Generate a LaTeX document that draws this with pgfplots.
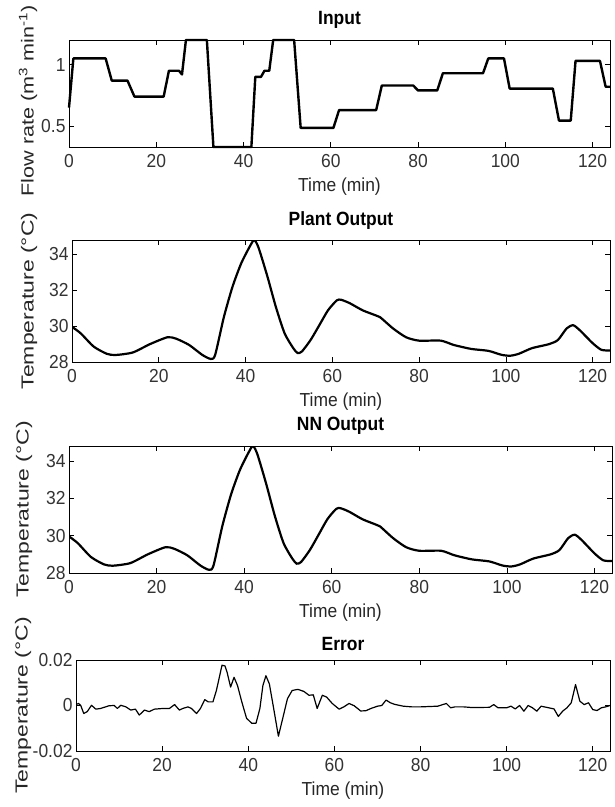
\documentclass[border=0pt]{standalone}
\usepackage{fontspec}
\setmainfont{Liberation Sans}
\usepackage{pgfplots}
\pgfplotsset{compat=1.18}

\pgfplotsset{
  ylab/.style={ylabel style={xshift=#1, rotate=90, xscale=1.32}},
  ttl/.style={title style={yshift=#1, yscale=1.1}},
  panel/.style={
    scale only axis,
    xmin=0, xmax=124,
    xtick={0,20,40,60,80,100,120},
    xticklabels={0,20,40,60,80,100,120},
    hide obscured x ticks=false,
    hide obscured y ticks=false,
    tick align=inside,
    major tick length=5bp,
    axis line style={line width=0.8bp, black},
    tick style={line width=0.7bp, black},
    /pgf/number format/assume math mode=true,
    scaled ticks=false,
    tick label style={font=\fontsize{17.5}{17.5}\selectfont, yscale=1.08, text=black!80},
    xticklabel style={yshift=-3bp},
    every axis title/.style={at={(0.5,1)}, anchor=center},
    every axis x label/.style={at={(0.5,0)}, anchor=center},
    every axis y label/.style={at={(0,0.5)}, anchor=center},
    title style={font=\bfseries\fontsize{17.5}{17.5}\selectfont},
    xlabel style={font=\fontsize{17.5}{17.5}\selectfont, yshift=-40bp, yscale=1.08, text=black!85},
    ylabel style={font=\fontsize{17.5}{17.5}\selectfont, text=black!85},
    xlabel={Time (min)},
    anchor=north west,
  }
}

\begin{document}
\begin{tikzpicture}
\path[use as bounding box] (0,0) rectangle (615bp,-807bp);

% ---------------- Input ----------------
\begin{axis}[panel,
  at={(69bp,-40bp)}, width=541bp, height=107bp,
  ymin=0.33, ymax=1.2, ytick={0.5,1}, yticklabels={0.5,1},
  title={Input}, ttl=20bp,
  ylabel={Flow rate (m\textsuperscript{3} min\textsuperscript{-1})},
  ylabel style={at={(0,0.43)}, xshift=-41bp, rotate=90, xscale=1.24},
  clip=false]
\addplot[black, line width=2.4bp, line join=round] coordinates {
(0,0.65) (1,1.05) (8.4,1.05) (9.8,0.87) (13.4,0.87) (15,0.74) (21.7,0.74)
(22.9,0.95) (25.2,0.95) (25.9,0.92) (26.8,1.2) (31.6,1.2) (33.1,0.33)
(41.8,0.33) (42.7,0.90) (44.0,0.90) (44.8,0.95) (45.9,0.95) (46.8,1.2)
(51.6,1.2) (53.1,0.485) (60.6,0.485) (61.9,0.63) (70.4,0.63) (71.7,0.83)
(78.9,0.83) (80.0,0.79) (84.4,0.79) (85.7,0.93) (94.9,0.93) (96.1,1.05)
(99.7,1.05) (101,0.805) (110.9,0.805) (112.3,0.545) (115,0.545) (116.1,1.03)
(121.7,1.03) (123,0.82) (124,0.82)
};
\end{axis}

% ---------------- Plant Output ----------------
\begin{axis}[panel,
  at={(72bp,-240bp)}, width=538bp, height=122bp,
  ymin=28, ymax=34.8, ytick={28,30,32,34},
  title={Plant Output}, ttl=19bp,
  ylabel={Temperature (°C)},
  ylab=-43bp]
\addplot[black, line width=2.2bp, smooth, tension=0.4] coordinates {
(0,29.96) (2,29.6) (5,28.86) (8,28.46) (10,28.39) (14,28.53) (18,29.0)
(22,29.38) (24,29.3) (27,28.95) (30,28.4) (32,28.17) (33,28.4) (35,30.5)
(37,32.2) (39,33.5) (41,34.45) (42,34.8) (43,34.37) (45,32.8) (47,31.06)
(49,29.6) (51,28.77) (52,28.5) (53,28.59) (55,29.23) (57,30.05) (59,30.88)
(61,31.43) (62,31.47) (64,31.28) (67,30.88) (70,30.6) (71,30.5) (74,29.87)
(77,29.38) (80,29.19) (85,29.19) (88,28.95) (92,28.73) (96,28.62) (99,28.4)
(101,28.35) (103,28.46) (106,28.77) (110,29.0) (112,29.23) (114,29.87)
(115.5,30.05) (117,29.78) (120,29.05) (122,28.68) (124,28.64)
};
\end{axis}

% ---------------- NN Output ----------------
\begin{axis}[panel,
  at={(69bp,-446bp)}, width=543bp, height=127bp,
  ymin=28, ymax=34.8, ytick={28,30,32,34},
  title={NN Output}, ttl=20bp,
  ylabel={Temperature (°C)},
  ylab=-45bp]
\addplot[black, line width=2.2bp, smooth, tension=0.4] coordinates {
(0,29.96) (2,29.6) (5,28.86) (8,28.46) (10,28.39) (14,28.53) (18,29.0)
(22,29.38) (24,29.3) (27,28.95) (30,28.4) (32,28.17) (33,28.4) (35,30.5)
(37,32.2) (39,33.5) (41,34.45) (42,34.8) (43,34.37) (45,32.8) (47,31.06)
(49,29.6) (51,28.77) (52,28.5) (53,28.59) (55,29.23) (57,30.05) (59,30.88)
(61,31.43) (62,31.47) (64,31.28) (67,30.88) (70,30.6) (71,30.5) (74,29.87)
(77,29.38) (80,29.19) (85,29.19) (88,28.95) (92,28.73) (96,28.62) (99,28.4)
(101,28.35) (103,28.46) (106,28.77) (110,29.0) (112,29.23) (114,29.87)
(115.5,30.05) (117,29.78) (120,29.05) (122,28.68) (124,28.64)
};
\end{axis}

% ---------------- Error ----------------
\begin{axis}[panel,
  at={(76bp,-660bp)}, width=534bp, height=91bp,
  ymin=-0.02, ymax=0.02, ytick={-0.02,0,0.02}, yticklabels={-0.02,0,0.02},
  title={Error}, ttl=16bp,
  ylabel={Temperature (°C)},
  ylab=-53bp]
\addplot[black, line width=1.2bp, line join=round] coordinates {
(0,0.0004) (0.6,0.0009) (1.1,0) (1.8,-0.0035) (2.6,-0.0027) (3.6,0.0001)
(4.6,-0.0016) (5.7,-0.0013) (7.7,-0.0001) (8.9,0) (9.6,-0.0013) (10.4,0.0001)
(11.6,-0.0006) (12.7,-0.002) (13.8,-0.0016) (14.7,-0.0042) (15.9,-0.002)
(17,-0.0027) (18.2,-0.0016) (20.2,-0.0013) (21.7,-0.0013) (22.9,0.0004)
(24.0,-0.002) (24.8,-0.0013) (26,-0.0006) (26.8,-0.0013) (28,-0.0035)
(28.9,-0.0013) (29.9,0.0026) (30.7,0.0016) (31.8,0.0016) (32.6,0.0066)
(33.2,0.0117) (33.9,0.0177) (34.6,0.0174) (35.1,0.0145) (35.9,0.0081)
(36.7,0.0124) (37.5,0.0088) (38.5,0.0016) (39.6,-0.0056) (40.8,-0.0078)
(41.8,-0.0078) (42.7,-0.0013) (43.4,0.0088) (44.1,0.0131) (44.9,0.0095)
(45.9,-0.0013) (47.0,-0.0135) (48.1,-0.0049) (49.1,0.003) (50.2,0.0066)
(51.5,0.0071) (52.9,0.0062) (54.1,0.0045) (55.1,0.0047) (56.0,-0.0013)
(57.2,0.0045) (58.2,0.0037) (59.5,0.0009) (61.1,-0.0016) (62.2,-0.0006)
(63.4,0.0009) (64.6,-0.0001) (66.1,-0.0024) (67.3,-0.0023) (68.5,-0.0013)
(70,-0.0003) (71,0) (72,0.0024) (73,0.0012) (74,0.0005) (76,-0.0003)
(78,-0.0006) (80,-0.0006) (84,-0.0003) (86,0.0009) (87,-0.001) (88,-0.0006)
(90,-0.0006) (92,-0.0009) (96,-0.0008) (97,0.0004) (98,-0.001) (100,-0.001)
(101,-0.0003) (102,-0.0015) (103,0) (104,-0.0025) (105,0) (106,-0.001)
(107,-0.0025) (108,-0.0003) (111,-0.0015) (112,-0.0048) (113,-0.0025)
(114,-0.001) (115,0.0012) (116,0.0092) (117,0.0019) (118,0.0004) (119,0.0012)
(120,-0.0018) (121,-0.0022) (122,-0.001) (123,-0.0006) (124,0)
};
\end{axis}
\end{tikzpicture}
\end{document}
